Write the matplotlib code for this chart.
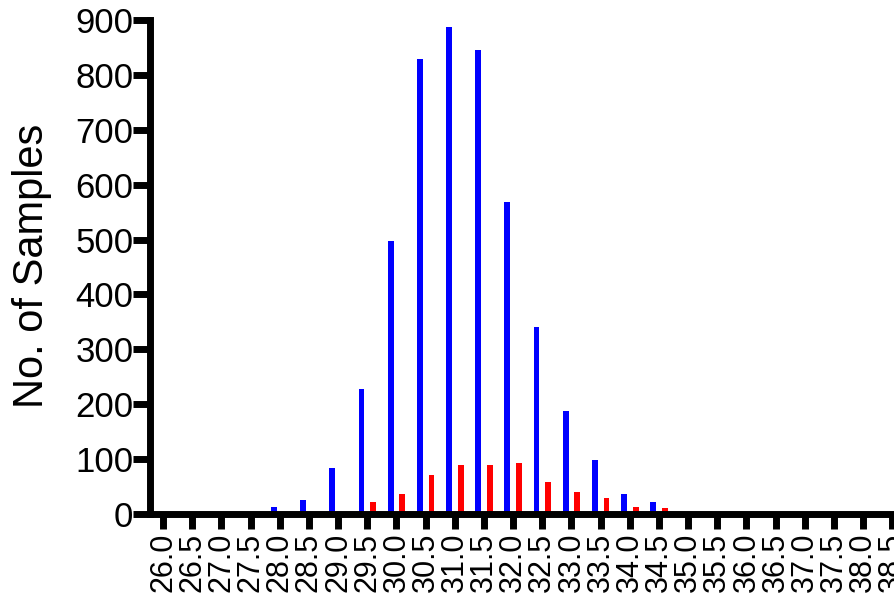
import matplotlib
matplotlib.use("Agg")
import matplotlib.pyplot as plt
import numpy as np

plt.rcParams['font.family'] = ['Liberation Sans', 'DejaVu Sans']

bins = ["26.0", "26.5", "27.0", "27.5", "28.0", "28.5", "29.0", "29.5", "30.0", "30.5",
        "31.0", "31.5", "32.0", "32.5", "33.0", "33.5", "34.0", "34.5", "35.0", "35.5",
        "36.0", "36.5", "37.0", "37.5", "38.0", "38.5"]
blue_counts = [0, 0, 0, 0, 12, 26, 84, 227, 498, 828, 887, 846, 568, 340, 188, 98, 36, 21,
               0, 0, 0, 0, 0, 0, 0, 0]
red_counts = [0, 0, 0, 0, 0, 0, 0, 22, 36, 71, 90, 90, 93, 58, 40, 30, 12, 10,
              0, 0, 0, 0, 0, 0, 0, 0]
y_ticks = [0, 100, 200, 300, 400, 500, 600, 700, 800, 900]

fig = plt.figure(figsize=(8.94, 6.01), dpi=100)
ax = fig.add_axes([0.1678, 0.1448, 0.84, 0.822])

x = np.arange(len(bins))
w = 0.2
off = 0.2
ax.bar(x - off, blue_counts, width=w, color='#0000FF', linewidth=0)
ax.bar(x + off, red_counts, width=w, color='#FF0000', linewidth=0)

ax.set_xlim(-0.45, 25.3)
ax.set_ylim(0, 900)
ax.set_yticks(y_ticks)
ax.set_xticks(x)
ax.set_xticklabels(bins, rotation=90, fontsize=22)
ax.tick_params(axis='y', labelsize=25, width=5, length=12, pad=0)
ax.tick_params(axis='x', width=5, length=10.5, pad=3)
for s in ['top', 'right']:
    ax.spines[s].set_visible(False)
for s in ['left', 'bottom']:
    ax.spines[s].set_linewidth(5)
ax.set_ylabel("No. of Samples", fontsize=30)
ax.yaxis.set_label_coords(52 / 894, 1 - 266 / 601, transform=fig.transFigure)

fig.savefig("out.png", dpi=100)
